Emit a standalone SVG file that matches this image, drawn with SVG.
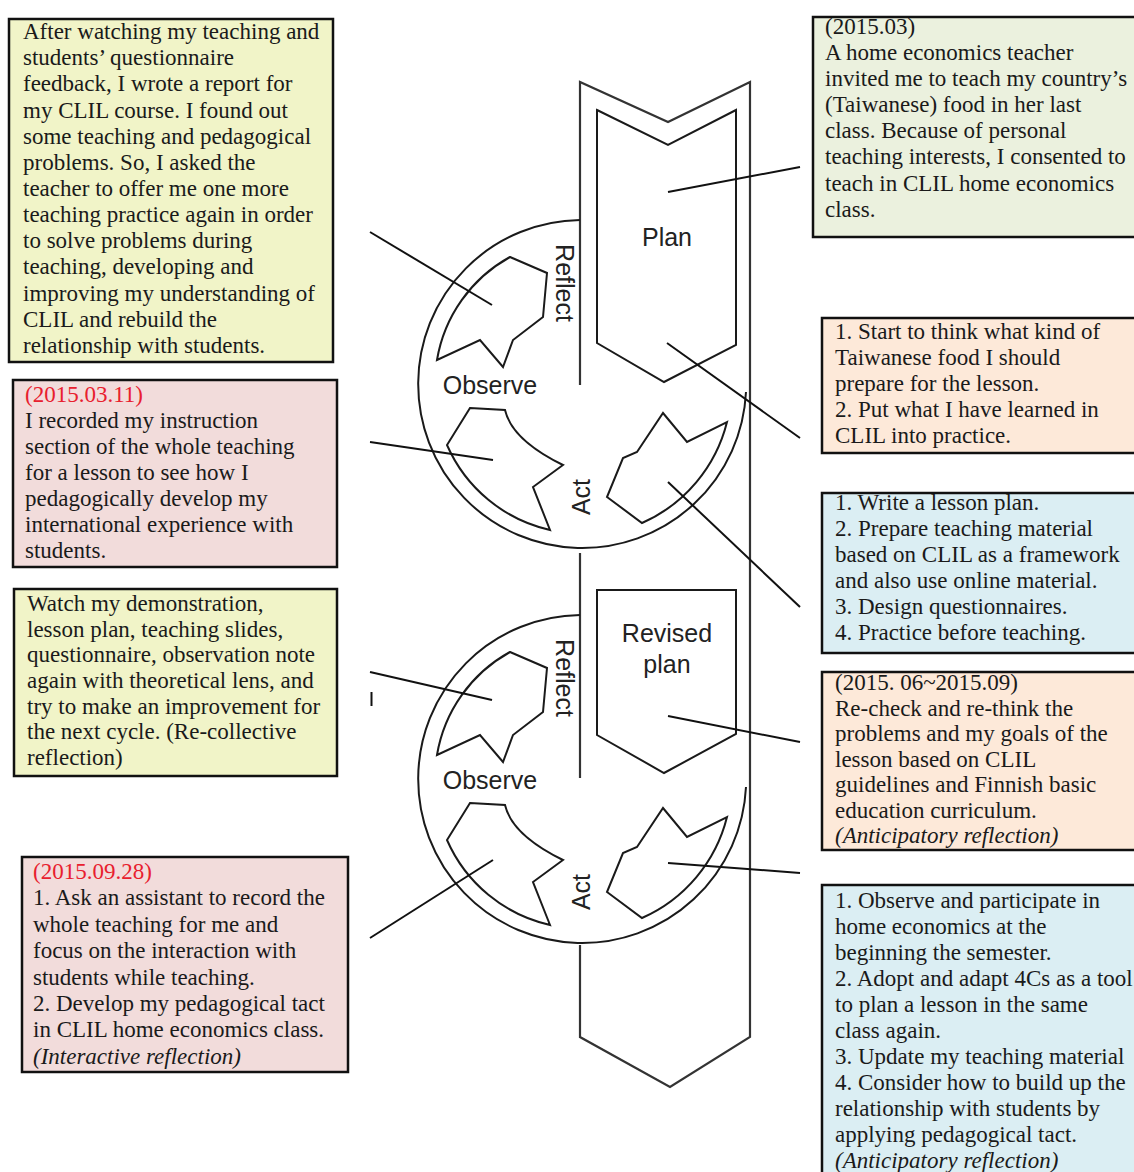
<svg xmlns="http://www.w3.org/2000/svg" width="1134" height="1172" viewBox="0 0 1134 1172">
<style>
.box{stroke:#111;stroke-width:2.5}
.y{fill:#f1f4c8}.p{fill:#f2dcdb}.g{fill:#ebf1de}.o{fill:#fde9d9}.b{fill:#dbeef3}
.t{font-family:"Liberation Serif","Times New Roman",serif;font-size:23px;fill:#1a1a1a}
.red{fill:#e8202e}
.it{font-style:italic}
.lbl{font-family:"Liberation Sans",Arial,sans-serif;font-size:25px;fill:#222}
.sh{fill:none;stroke:#1a1a1a;stroke-width:2;stroke-linejoin:miter}
.band{fill:none;stroke:#333;stroke-width:2.2}
.con{fill:none;stroke:#111;stroke-width:2}
</style>
<rect width="1134" height="1172" fill="#fff"/>

<g id="cycle-diagram">
  <path class="band" d="M580 385 V82 L668 122 L750 82 V1037 L670 1087 L580 1037 V945"/>
  <path class="band" d="M580 553 V778"/>
  <g id="plan">
    <path class="sh" d="M597 110 L668 145 L736 110 V345 L664 382 L597 343 Z"/>
    <text class="lbl" x="667" y="246" text-anchor="middle">Plan</text>
  </g>
  <g id="revised-plan">
    <path class="sh" d="M597 590 H736 V734 L664 773 L597 735 Z"/>
    <text class="lbl" x="667" y="642" text-anchor="middle">Revised</text>
    <text class="lbl" x="667" y="673" text-anchor="middle">plan</text>
  </g>
  <g id="cycle1">
    <path class="sh" d="M580 220 A164 164 0 1 0 746 392"/>
    <path class="sh" d="M510 257 L547 273 L543 317 L513 340 L503 367 L480 340 L437 360 A145 145 0 0 1 510 257 Z"/>
    <path class="sh" d="M470 408 L505 410 Q512 440 563 465 L533 487 L550 530 A148 148 0 0 1 447 445 Z"/>
    <path class="sh" d="M663 413 L687 442 L727 422 A150 150 0 0 1 642 523 L607 497 L623 458 L637 452 Z"/>
    <text class="lbl" transform="translate(556 283) rotate(90)" text-anchor="middle">Reflect</text>
    <text class="lbl" x="490" y="394" text-anchor="middle">Observe</text>
    <text class="lbl" transform="translate(590 497) rotate(-90)" text-anchor="middle">Act</text>
  </g>
  <g id="cycle2" transform="translate(0 395)">
    <path class="sh" d="M580 220 A164 164 0 1 0 746 392"/>
    <path class="sh" d="M510 257 L547 273 L543 317 L513 340 L503 367 L480 340 L437 360 A145 145 0 0 1 510 257 Z"/>
    <path class="sh" d="M470 408 L505 410 Q512 440 563 465 L533 487 L550 530 A148 148 0 0 1 447 445 Z"/>
    <path class="sh" d="M663 413 L687 442 L727 422 A150 150 0 0 1 642 523 L607 497 L623 458 L637 452 Z"/>
    <text class="lbl" transform="translate(556 283) rotate(90)" text-anchor="middle">Reflect</text>
    <text class="lbl" x="490" y="394" text-anchor="middle">Observe</text>
    <text class="lbl" transform="translate(590 497) rotate(-90)" text-anchor="middle">Act</text>
  </g>
</g>

<g id="connectors">
  <line class="con" x1="668" y1="192" x2="800" y2="167"/>
  <line class="con" x1="667" y1="343" x2="800" y2="438"/>
  <line class="con" x1="370" y1="232" x2="492" y2="305"/>
  <line class="con" x1="370" y1="442" x2="493" y2="460"/>
  <line class="con" x1="668" y1="482" x2="800" y2="607"/>
  <line class="con" x1="370" y1="672" x2="492" y2="700"/>
  <line class="con" x1="668" y1="716" x2="800" y2="742"/>
  <line class="con" x1="370" y1="938" x2="493" y2="860"/>
  <line class="con" x1="668" y1="863" x2="800" y2="873"/>
  <line class="con" x1="371.5" y1="692" x2="371.5" y2="706" stroke-width="2.5"/>
</g>

<g id="box-reflect1">
  <rect class="box y" x="9" y="19" width="324" height="343"/>
  <text class="t">
    <tspan x="23" y="39">After watching my teaching and</tspan>
    <tspan x="23" y="65">students’ questionnaire</tspan>
    <tspan x="23" y="91">feedback, I wrote a report for</tspan>
    <tspan x="23" y="118">my CLIL course. I found out</tspan>
    <tspan x="23" y="144">some teaching and pedagogical</tspan>
    <tspan x="23" y="170">problems. So, I asked the</tspan>
    <tspan x="23" y="196">teacher to offer me one more</tspan>
    <tspan x="23" y="222">teaching practice again in order</tspan>
    <tspan x="23" y="248">to solve problems during</tspan>
    <tspan x="23" y="274">teaching, developing and</tspan>
    <tspan x="23" y="301">improving my understanding of</tspan>
    <tspan x="23" y="327">CLIL and rebuild the</tspan>
    <tspan x="23" y="353">relationship with students.</tspan>
  </text>
</g>

<g id="box-observe1">
  <rect class="box p" x="13" y="380" width="324" height="187"/>
  <text class="t">
    <tspan class="red" x="25" y="402">(2015.03.11)</tspan>
    <tspan x="25" y="428">I recorded my instruction</tspan>
    <tspan x="25" y="454">section of the whole teaching</tspan>
    <tspan x="25" y="480">for a lesson to see how I</tspan>
    <tspan x="25" y="506">pedagogically develop my</tspan>
    <tspan x="25" y="532">international experience with</tspan>
    <tspan x="25" y="558">students.</tspan>
  </text>
</g>

<g id="box-reflect2">
  <rect class="box y" x="14" y="589" width="323" height="187"/>
  <text class="t">
    <tspan x="27" y="611">Watch my demonstration,</tspan>
    <tspan x="27" y="637">lesson plan, teaching slides,</tspan>
    <tspan x="27" y="662">questionnaire, observation note</tspan>
    <tspan x="27" y="688">again with theoretical lens, and</tspan>
    <tspan x="27" y="714">try to make an improvement for</tspan>
    <tspan x="27" y="739">the next cycle. (Re-collective</tspan>
    <tspan x="27" y="765">reflection)</tspan>
  </text>
</g>

<g id="box-act2">
  <rect class="box p" x="22" y="857" width="326" height="215"/>
  <text class="t">
    <tspan class="red" x="33" y="879">(2015.09.28)</tspan>
    <tspan x="33" y="905">1. Ask an assistant to record the</tspan>
    <tspan x="33" y="932">whole teaching for me and</tspan>
    <tspan x="33" y="958">focus on the interaction with</tspan>
    <tspan x="33" y="985">students while teaching.</tspan>
    <tspan x="33" y="1011">2. Develop my pedagogical tact</tspan>
    <tspan x="33" y="1037">in CLIL home economics class.</tspan>
    <tspan class="it" x="33" y="1064">(Interactive reflection)</tspan>
  </text>
</g>

<g id="box-plan">
  <rect class="box g" x="813" y="17" width="330" height="220"/>
  <text class="t">
    <tspan x="825" y="34">(2015.03)</tspan>
    <tspan x="825" y="60">A home economics teacher</tspan>
    <tspan x="825" y="86">invited me to teach my country’s</tspan>
    <tspan x="825" y="112">(Taiwanese) food in her last</tspan>
    <tspan x="825" y="138">class. Because of personal</tspan>
    <tspan x="825" y="164">teaching interests, I consented to</tspan>
    <tspan x="825" y="191">teach in CLIL home economics</tspan>
    <tspan x="825" y="217">class.</tspan>
  </text>
</g>

<g id="box-plan2">
  <rect class="box o" x="822" y="318" width="320" height="135"/>
  <text class="t">
    <tspan x="835" y="339">1. Start to think what kind of</tspan>
    <tspan x="835" y="365">Taiwanese food I should</tspan>
    <tspan x="835" y="391">prepare for the lesson.</tspan>
    <tspan x="835" y="417">2. Put what I have learned in</tspan>
    <tspan x="835" y="443">CLIL into practice.</tspan>
  </text>
</g>

<g id="box-act1">
  <rect class="box b" x="822" y="493" width="320" height="160"/>
  <text class="t">
    <tspan x="835" y="510">1. Write a lesson plan.</tspan>
    <tspan x="835" y="536">2. Prepare teaching material</tspan>
    <tspan x="835" y="562">based on CLIL as a framework</tspan>
    <tspan x="835" y="588">and also use online material.</tspan>
    <tspan x="835" y="614">3. Design questionnaires.</tspan>
    <tspan x="835" y="640">4. Practice before teaching.</tspan>
  </text>
</g>

<g id="box-revised-plan">
  <rect class="box o" x="822" y="672" width="320" height="178"/>
  <text class="t">
    <tspan x="835" y="690">(2015. 06~2015.09)</tspan>
    <tspan x="835" y="716">Re-check and re-think the</tspan>
    <tspan x="835" y="741">problems and my goals of the</tspan>
    <tspan x="835" y="767">lesson based on CLIL</tspan>
    <tspan x="835" y="792">guidelines and Finnish basic</tspan>
    <tspan x="835" y="818">education curriculum.</tspan>
    <tspan class="it" x="835" y="843">(Anticipatory reflection)</tspan>
  </text>
</g>

<g id="box-act-revised">
  <rect class="box b" x="822" y="885" width="320" height="300"/>
  <text class="t">
    <tspan x="835" y="908">1. Observe and participate in</tspan>
    <tspan x="835" y="934">home economics at the</tspan>
    <tspan x="835" y="960">beginning the semester.</tspan>
    <tspan x="835" y="986">2. Adopt and adapt 4Cs as a tool</tspan>
    <tspan x="835" y="1012">to plan a lesson in the same</tspan>
    <tspan x="835" y="1038">class again.</tspan>
    <tspan x="835" y="1064">3. Update my teaching material</tspan>
    <tspan x="835" y="1090">4. Consider how to build up the</tspan>
    <tspan x="835" y="1116">relationship with students by</tspan>
    <tspan x="835" y="1142">applying pedagogical tact.</tspan>
    <tspan class="it" x="835" y="1168">(Anticipatory reflection)</tspan>
  </text>
</g>
</svg>
